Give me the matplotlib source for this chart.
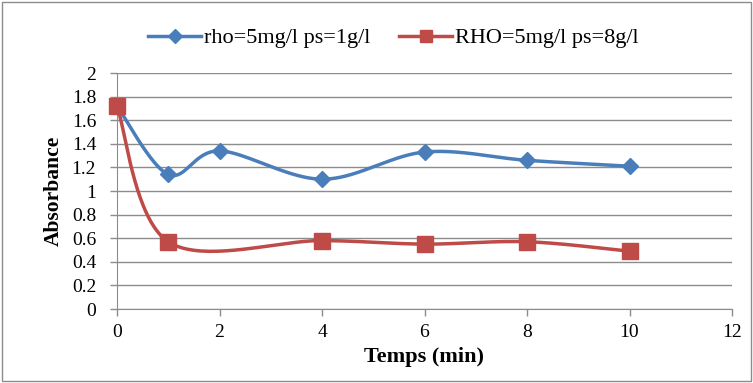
import numpy as np
import matplotlib.pyplot as plt
from matplotlib.patches import Rectangle

plt.rcParams['font.family'] = 'Liberation Serif'

# Absorbance over time for the two sorbent doses
temps = [0, 1, 2, 4, 6, 8, 10]
abs_1g = [1.72, 1.14, 1.34, 1.10, 1.33, 1.26, 1.21]
temps_8g = [0, 1, 4, 6, 8, 10]
abs_8g = [1.72, 0.57, 0.58, 0.55, 0.57, 0.49]

label_1g = 'rho=5mg/l ps=1g/l'
label_8g = 'RHO=5mg/l ps=8g/l'


def smooth(x, y, n=40):
    # Excel-like smoothed line: cubic Bezier segments with Catmull-Rom control points
    p = np.column_stack([x, y]).astype(float)
    pts = [p[0]]
    for i in range(len(p) - 1):
        p0 = p[i - 1] if i > 0 else p[i]
        p3 = p[i + 2] if i + 2 < len(p) else p[i + 1]
        c1 = p[i] + (p[i + 1] - p0) / 6
        c2 = p[i + 1] - (p3 - p[i]) / 6
        t = np.linspace(0, 1, n)[1:, None]
        seg = ((1 - t) ** 3 * p[i] + 3 * (1 - t) ** 2 * t * c1
               + 3 * (1 - t) * t ** 2 * c2 + t ** 3 * p[i + 1])
        pts.extend(seg)
    pts = np.array(pts)
    return pts[:, 0], pts[:, 1]


blue = '#4a7ebb'
red = '#be4b48'

fig = plt.figure(figsize=(7.53, 3.83), dpi=100)
ax = fig.add_axes([117 / 753, 1 - 309 / 383, 615 / 753, 236 / 383])

sx, sy = smooth(temps, abs_1g)
ax.plot(sx, sy, color=blue, lw=2.5, zorder=3, clip_on=False)
ax.plot(temps, abs_1g, ls='none', marker='D', ms=8, color=blue, zorder=4, clip_on=False)
sx, sy = smooth(temps_8g, abs_8g)
ax.plot(sx, sy, color=red, lw=2.5, zorder=3, clip_on=False)
ax.plot(temps_8g, abs_8g, ls='none', marker='s', ms=11, color=red, zorder=5, clip_on=False)

# legend handles
ax.plot([], [], color=blue, lw=2.5, marker='D', ms=7, label=label_1g)
ax.plot([], [], color=red, lw=2.5, marker='s', ms=9, label=label_8g)
ax.legend(loc='lower center', bbox_to_anchor=(0.449, 1.02), ncol=2, frameon=False,
          fontsize=16, handlelength=2.4, columnspacing=1.3, handletextpad=0.1)

ax.set_xlim(0, 12)
ax.set_ylim(0, 2)
ax.set_xticks(range(0, 13, 2))
ax.set_yticks(np.arange(0, 2.01, 0.2))
ax.set_yticklabels(['0'] + [f'{v:g}' for v in np.arange(0.2, 2.01, 0.2).round(1)])
ax.grid(axis='y', color='#8c8c8c', lw=1)
ax.set_axisbelow(True)
for s in ['top', 'right']:
    ax.spines[s].set_visible(False)
ax.spines['left'].set_color('#8c8c8c')
ax.spines['bottom'].set_color('#8c8c8c')
ax.tick_params(colors='#8c8c8c', labelcolor='black', labelsize=14, length=5, width=1)
ax.tick_params(axis='x', pad=6)
ax.tick_params(axis='y', pad=10)
ax.set_xlabel('Temps (min)', fontsize=16, fontweight='bold', labelpad=4)
ax.set_ylabel('Absorbance', fontsize=15.5, fontweight='bold', labelpad=6)

fig.patches.append(Rectangle((0.003, 0.004), 0.994, 0.992, transform=fig.transFigure,
                             fill=False, edgecolor='#8c8c8c', lw=1))

fig.savefig('out.png', dpi=100)
